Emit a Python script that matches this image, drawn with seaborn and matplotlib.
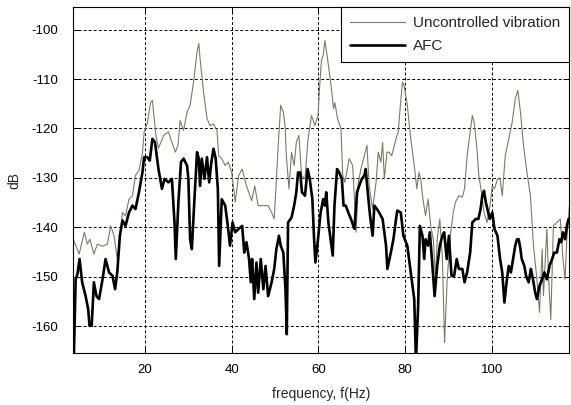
import numpy as np
import pandas as pd
import matplotlib
matplotlib.use("Agg")
import matplotlib.pyplot as plt
import seaborn as sns
from matplotlib.lines import Line2D

unc_freq = [3.6,4.8,6.0,6.7,7.3,8.2,9.0,10.2,11.3,12.1,12.85,13.6,14.8,15.5,16.3,17.1,17.8,18.6,19.4,19.8,20.5,21.3,21.7,22.5,23.1,24.3,25.4,26.2,27.0,27.6,28.1,28.9,29.7,30.4,31.2,32.0,32.4,32.7,33.5,34.3,35.0,35.8,36.6,37.0,37.7,38.5,39.2,40.0,40.8,41.6,42.4,43.4,44.6,45.3,46.1,47.3,48.4,49.2,49.8,50.3,50.9,51.3,51.9,52.3,52.6,53.2,53.8,54.4,54.9,55.5,56.1,56.9,57.6,58.4,59.2,59.9,60.3,60.7,61.1,61.5,62.1,62.9,63.5,63.8,64.4,65.2,65.6,66.1,67.1,67.9,68.7,69.2,69.8,70.6,71.2,71.7,72.5,73.3,73.8,74.4,74.8,75.2,75.8,76.3,76.9,77.9,78.4,78.9,79.4,79.75,80.5,81.3,82.1,82.7,83.2,83.6,84.0,84.7,85.3,85.9,86.5,87.0,87.4,88.0,88.6,89.1,89.7,90.5,91.1,91.6,92.4,93.2,93.7,94.3,95.0,95.5,95.9,96.5,97.0,97.6,98.2,98.9,99.7,100.1,100.6,101.3,101.9,102.4,103.1,103.9,104.7,105.4,106.0,106.6,107.3,108.1,108.9,109.6,110.4,111.0,111.6,111.9,112.7,113.1,113.6,114.2,115.0,115.8,116.4,116.9,117.3,117.9]
unc_db = [-142.7,-145.4,-141,-143.4,-142.4,-145.4,-143.4,-143.8,-143.4,-139.7,-141.7,-146.4,-137,-137.7,-134.3,-133.6,-129.5,-128.5,-125,-120.7,-119,-114.7,-114.3,-121.4,-124,-121.4,-120.7,-122.8,-124.8,-123.4,-118.4,-120.4,-116.7,-115.3,-110.6,-104.5,-102.8,-105.9,-112.6,-118,-119.4,-119.1,-120.4,-125.5,-126.1,-127.5,-126.8,-128.9,-134.9,-129.5,-128.2,-131.6,-134.6,-131.6,-135.6,-135.6,-135.6,-137,-138.3,-130.2,-120.7,-115.3,-116.7,-119.4,-125.5,-132.2,-124.8,-127.5,-122.8,-121.4,-129.5,-130.2,-122.1,-117.4,-119.4,-117.4,-111.3,-106.2,-105.2,-102.2,-105.9,-111.3,-116,-114.8,-118,-120,-129.5,-130.9,-126.1,-127.5,-141,-130.9,-128.2,-125.5,-123.4,-131.6,-136.3,-130.9,-124.8,-126.8,-122.8,-130.2,-124.8,-124.8,-125.5,-122.1,-120.7,-115.3,-110.6,-111.3,-115.3,-122.1,-127.5,-132.2,-128.9,-130.2,-133.6,-137.6,-134.3,-139.7,-142.4,-150.5,-142.4,-138.3,-146.4,-163.3,-150.5,-141,-137,-134.9,-133.6,-133.9,-132.2,-125.5,-120.7,-117.4,-118.7,-123.4,-129.5,-132.9,-137,-139,-134.9,-131.6,-132.2,-130.2,-130.2,-133.6,-125.5,-122.1,-118.7,-114,-112.3,-116.7,-123.4,-128.9,-133.6,-143.7,-150.5,-157.2,-144.4,-153.8,-140.3,-150.5,-158.6,-139.7,-139,-138.3,-146.4,-150.5,-142.4,-135.6]

afc_freq = [3.6,4.0,4.4,4.9,5.5,6.3,6.9,7.2,7.7,8.2,8.8,9.4,10.2,10.9,11.7,12.5,13.1,13.6,14.2,14.8,15.5,16.3,17.1,17.8,18.6,19.4,19.8,20.5,21.1,21.7,22.3,22.8,23.1,23.9,24.5,25.4,26.2,26.8,27.1,27.7,28.3,28.9,29.7,30.0,30.4,30.8,31.4,32.0,32.4,32.7,33.1,33.7,34.3,34.8,35.3,35.8,36.3,36.8,37.1,37.7,38.5,39.1,39.6,40.2,40.8,41.6,42.4,42.9,43.4,44.0,44.4,44.7,45.2,45.7,46.1,46.7,47.3,47.8,48.4,49.2,49.8,50.3,50.9,51.3,51.9,52.4,52.7,53.0,53.8,54.4,54.9,55.3,55.8,56.2,56.9,57.5,58.0,58.6,59.0,59.3,59.9,60.5,61.1,61.5,61.8,62.3,62.9,63.3,63.7,64.3,64.8,65.4,65.8,66.3,66.9,67.5,68.3,68.9,69.4,70.0,70.6,70.9,71.3,71.9,72.5,72.9,73.5,74.0,74.8,75.6,75.9,76.7,77.3,77.9,78.2,79.0,79.6,80.5,81.3,82.1,82.5,83.0,83.4,84.0,84.4,84.7,85.3,85.7,86.3,86.8,87.4,88.0,88.6,89.0,89.6,90.1,90.7,91.3,91.9,92.4,93.2,93.7,94.3,95.0,95.5,96.3,96.9,97.4,97.8,98.2,98.6,98.9,99.5,100.1,100.6,101.3,101.9,102.4,102.9,103.4,103.9,104.4,104.9,105.4,105.8,106.2,106.6,106.9,107.5,107.9,108.5,109.0,109.5,110.0,110.4,111.0,111.6,112.1,112.7,113.3,113.9,114.4,115.0,115.6,116.0,116.4,116.9,117.3,117.7]
afc_db = [-165.7,-150.5,-149.5,-146.4,-151.1,-153.9,-156.6,-159.9,-159.9,-151.1,-153.9,-154.5,-150.5,-146.4,-149.1,-149.8,-152.5,-149.1,-141.7,-138.6,-139.7,-137,-135.6,-136.3,-132.9,-128.9,-125.8,-125.8,-126.5,-122.1,-122.8,-126.1,-128.2,-132.2,-130.2,-130.9,-130.2,-139,-146.4,-134.9,-126.8,-126.1,-127.5,-130.2,-142.4,-144.4,-134.3,-124.8,-126.1,-131.6,-126.1,-130.2,-125.8,-130.9,-126.8,-124.1,-126.1,-132.2,-147.8,-134.3,-135.6,-139.7,-143.7,-139,-141,-140.3,-139.7,-145.1,-143,-146.4,-151.1,-146.4,-154.5,-147.1,-153.2,-146.4,-152.5,-147.8,-153.9,-151.1,-148.4,-144.4,-141.7,-143.7,-145.1,-152.5,-161.6,-139,-138,-135.6,-132.9,-128.9,-128.9,-132.9,-133.6,-128.2,-130.2,-134.3,-142.4,-147.1,-142.4,-137,-134.3,-135.6,-132.9,-139,-143,-145.7,-135.6,-128.2,-128.9,-130.2,-135.6,-135.6,-137,-138.3,-140.3,-132.9,-131.6,-130.2,-129.5,-128.2,-132.2,-137.6,-141.7,-135.6,-136.3,-137,-138.3,-143.7,-148.4,-145.1,-142.4,-138.3,-136.6,-137,-141.7,-143.7,-149.1,-154.5,-167,-155.9,-139.7,-141.7,-146.4,-142.4,-143.7,-141,-147.8,-153.9,-147.8,-143.7,-141.7,-141,-146.4,-141.7,-149.8,-149.8,-146.4,-148.4,-148.4,-151.1,-149.1,-145.1,-139,-138.3,-138.3,-136.3,-133.6,-132.6,-134.9,-136,-138.3,-137,-140.3,-141.7,-146.4,-149.1,-155.2,-151.1,-147.8,-149.1,-146.4,-143.7,-142.4,-142.4,-144.4,-146.4,-147.8,-149.8,-151.1,-148.4,-150.5,-153.2,-154.5,-151.8,-150.5,-149.1,-150.5,-147.8,-146.4,-145.1,-145.1,-142.4,-143,-141,-142.4,-139.7,-138.3]

series_names = ["Uncontrolled vibration", "AFC"]
x_ticks = [20, 40, 60, 80, 100]
y_ticks = [-100, -110, -120, -130, -140, -150, -160]

df = pd.concat([
    pd.DataFrame({"f": unc_freq, "dB": unc_db, "series": series_names[0]}),
    pd.DataFrame({"f": afc_freq, "dB": afc_db, "series": series_names[1]}),
], ignore_index=True)

sns.set_style("white")
plt.rcParams["font.family"] = ["Liberation Sans", "DejaVu Sans"]
plt.rcParams["axes.unicode_minus"] = False

UNC_COLOR = "#7d7b62"
fig = plt.figure(figsize=(5.71, 4.05), dpi=100)
ax = fig.add_axes([0.1287, 0.1284, 0.8678, 0.8536])

sns.lineplot(data=df, x="f", y="dB", hue="series", hue_order=series_names,
             palette={series_names[0]: UNC_COLOR, series_names[1]: "#000000"},
             size="series", sizes={series_names[0]: 0.8, series_names[1]: 1.9},
             sort=False, estimator=None, ax=ax, legend=False)

ax.set_xlim(3.5, 117.8)
ax.set_ylim(-165.4, -95.5)
ax.set_xticks(x_ticks)
ax.set_yticks(y_ticks)
ax.grid(True, color="black", linestyle=(0, (3, 2.2)), linewidth=0.7)
ax.set_axisbelow(True)
ax.tick_params(direction="in", length=4, width=0.7, labelsize=9.5, colors="black",
               top=True, right=True, bottom=True, left=True)
ax.tick_params(axis="y", pad=11)
ax.tick_params(axis="x", pad=8)
for s in ax.spines.values():
    s.set_visible(True)
    s.set_color("black")
    s.set_linewidth(0.8)
ax.set_xlabel("frequency, f(Hz)", fontsize=10, labelpad=8)
ax.set_ylabel("dB", fontsize=10, labelpad=7)

handles = [Line2D([], [], color=UNC_COLOR, lw=0.8), Line2D([], [], color="black", lw=1.9)]
leg = ax.legend(handles, series_names, loc="upper right", borderaxespad=0,
                fancybox=False, framealpha=1, edgecolor="black", fontsize=11,
                handlelength=3.6, handletextpad=0.5, borderpad=0.6,
                labelspacing=0.55)
leg.get_frame().set_linewidth(0.8)

fig.savefig("out.png", dpi=100, facecolor="white")
